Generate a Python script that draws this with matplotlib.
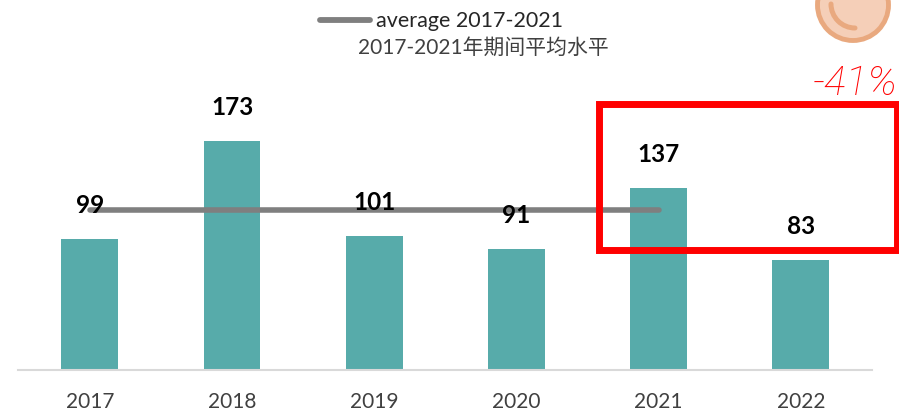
import matplotlib
matplotlib.use('Agg')
import matplotlib.pyplot as plt
from matplotlib.patches import Circle, Rectangle, Arc

plt.rcParams['font.family'] = ['Lato', 'Noto Sans CJK SC', 'DejaVu Sans']

years = ['2017', '2018', '2019', '2020', '2021', '2022']
values = [99, 173, 101, 91, 137, 83]
avg_years = ['2017', '2018', '2019', '2020', '2021']
avg_values = [121, 121, 121, 121, 121]

W, H = 899, 410
fig = plt.figure(figsize=(W / 100, H / 100), dpi=100)

# main chart, baseline sits at y=371px
ax = fig.add_axes([18 / W, (H - 371) / H, 854 / W, 310 / H])
x = list(range(len(years)))
ax.bar(x, values, width=0.4, color='#57ABAA', zorder=2)
ax.plot(x[:len(avg_years)], avg_values, color='#7F7F7F', lw=4, solid_capstyle='round', zorder=3)
ax.set_xlim(-0.505, 5.5)
ax.set_ylim(0, 310 / 1.325)
ax.set_xticks(x)
ax.set_xticklabels(years, fontsize=15, color='#404040')
ax.tick_params(axis='x', length=0, pad=15)
ax.set_yticks([])
for s in ['top', 'left', 'right']:
    ax.spines[s].set_visible(False)
ax.spines['bottom'].set_color('#D9D9D9')
ax.spines['bottom'].set_linewidth(1.5)

for i, v in enumerate(values):
    ax.annotate(str(v), (i, v), xytext=(0, 25), textcoords='offset points',
                ha='center', va='center', fontsize=17.5, fontweight='bold', color='black', zorder=4)

# overlay in pixel coordinates for the legend text and the pasted shapes
ov = fig.add_axes([0, 0, 1, 1])
ov.set_xlim(0, W)
ov.set_ylim(H, 0)
ov.axis('off')
ov.patch.set_alpha(0)

ov.plot([320, 370], [21, 21], color='#7F7F7F', lw=4.2, solid_capstyle='round')
ov.text(376, 21, 'average 2017-2021', fontsize=15.5, color='#262626', va='center', ha='left')
ov.text(358, 48, '2017-2021年期间平均水平', fontsize=15, color='#404040', va='center', ha='left')

ov.add_patch(Rectangle((599, 105), 298, 146, fill=False, edgecolor='#FF0000', lw=5, joinstyle='miter'))
ov.text(898, 84, '-41%', fontsize=29.5, family=['Roboto', 'DejaVu Sans'], style='italic', fontweight='light',
        color='#FF0000', va='center', ha='right')

ov.add_patch(Circle((853, 6), 35.5, facecolor='#F5CFB8', edgecolor='#E9A97F', lw=3.5))
ov.add_patch(Arc((855, 5), 48, 48, theta1=90, theta2=180, color='#E9A97F', lw=3.6, capstyle='round'))

fig.savefig('out.png', dpi=100)
